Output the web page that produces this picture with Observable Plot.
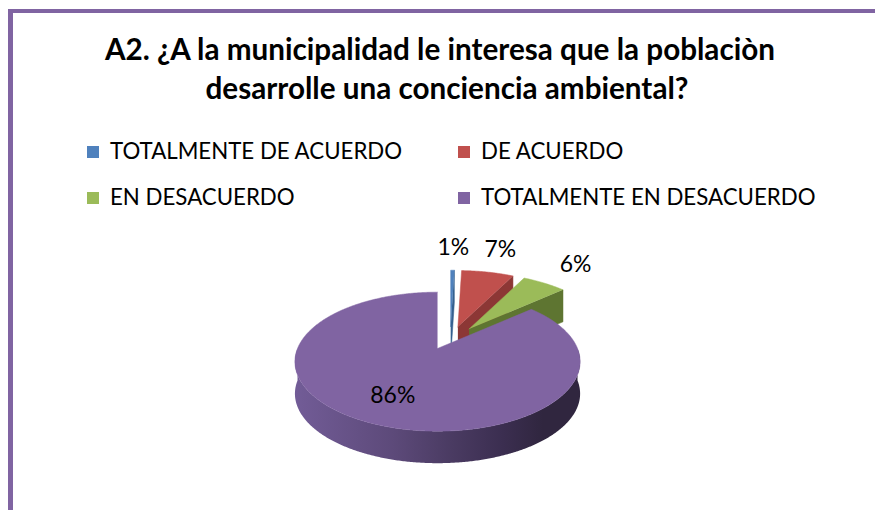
<!DOCTYPE html>
<html><head><meta charset="utf-8">
<script src="https://cdn.jsdelivr.net/npm/d3@7"></script>
<script src="https://cdn.jsdelivr.net/npm/@observablehq/plot@0.6"></script>
<style>
body{margin:0;background:#fff;}
#wrap{position:relative;width:875px;height:510px;overflow:hidden;background:#fff;}
.bar{position:absolute;background:#8064A2;}
.txt{position:absolute;white-space:nowrap;color:#000;}
.sw{position:absolute;}
#chart{position:absolute;left:0;top:0;}
</style></head>
<body><div id="wrap"></div>
<script>
// ---------- data ----------
const categories = ["TOTALMENTE DE ACUERDO", "DE ACUERDO", "EN DESACUERDO", "TOTALMENTE EN DESACUERDO"];
const values = [0.5, 7.1, 6.0, 86.4];          // slice sizes
const valueLabels = ["1%", "7%", "6%", "86%"];   // printed labels
const titleLines = ["A2. ¿A la municipalidad le interesa que la poblaciòn", "desarrolle una conciencia ambiental?"];
const topColors = ["#4F81BD", "#C0504D", "#9BBB59", "#8064A2"];
const faceColors = ["#35608f", "#8c3735", "#5e7531", "#4b3b63"];

// ---------- helpers ----------
const FONT = "Lato, 'Open Sans', sans-serif";
const wrap = document.getElementById("wrap");
const ctx = document.createElement("canvas").getContext("2d");
function fitSize(text, weight, target) {
  ctx.font = `${weight} 100px ${FONT}`;
  return 100 * target / ctx.measureText(text).width;
}
function metrics(weight, size) {
  ctx.font = `${weight} ${size}px ${FONT}`;
  const m = ctx.measureText("Hg");
  return {a: m.fontBoundingBoxAscent, d: m.fontBoundingBoxDescent};
}
function addText(text, weight, size, baseline, opts) {
  const el = document.createElement("div");
  el.className = "txt";
  el.textContent = text;
  el.style.font = `${weight} ${size}px ${FONT}`;
  el.style.lineHeight = size + "px";
  const m = metrics(weight, size);
  el.style.top = (baseline - (size - (m.a + m.d)) / 2 - m.a) + "px";
  if (opts.center != null) {
    el.style.left = "0px"; el.style.width = (2 * opts.center) + "px"; el.style.textAlign = "center";
  } else el.style.left = opts.left + "px";
  wrap.appendChild(el);
}
function addBox(cls, l, t, w, h, color) {
  const el = document.createElement("div");
  el.className = cls;
  Object.assign(el.style, {left: l + "px", top: t + "px", width: w + "px", height: h + "px"});
  if (color) el.style.background = color;
  wrap.appendChild(el);
}

// ---------- pie geometry (3D, exploded, perspective) ----------
const C = {x: 449.7, y: 337.5}, RX = 140, RY = 67, K = 0.19, DEPTH = 32, EX = 30.6, EY = 11.5;
const arcs = d3.pie().sort(null).value(d => d)(values);
function proj(arc, a, r, z) {
  const m = (arc.startAngle + arc.endAngle) / 2;
  const u = r * Math.sin(a), v = -r * Math.cos(a);
  const s = 1 / (1 - K * v);
  return {x: C.x + EX * Math.sin(m) + RX * u * s, y: C.y - EY * Math.cos(m) + RY * v * s + z};
}
const step = Math.PI / 360;
const tops = [], faces = [], walls = [], labelPts = [];
arcs.forEach((arc, i) => {
  const t = [proj(arc, 0, 0, 0)];
  for (let a = arc.startAngle; a < arc.endAngle; a += step) t.push(proj(arc, a, 1, 0));
  t.push(proj(arc, arc.endAngle, 1, 0));
  tops.push(t);
  if (arc.endAngle < Math.PI) {
    const e = arc.endAngle;
    faces.push([proj(arc, e, 0, 0), proj(arc, e, 1, 0), proj(arc, e, 1, DEPTH), proj(arc, e, 0, DEPTH)]);
  } else faces.push(null);
  const a0 = Math.max(arc.startAngle, Math.PI / 2), a1 = Math.min(arc.endAngle, 3 * Math.PI / 2);
  if (a1 > a0) {
    const up = [], down = [];
    for (let a = a0; a < a1; a += step) { up.push(proj(arc, a, 1, 0)); down.push(proj(arc, a, 1, DEPTH)); }
    up.push(proj(arc, a1, 1, 0)); down.push(proj(arc, a1, 1, DEPTH));
    walls.push(up.concat(down.reverse()));
  }
  const m = (arc.startAngle + arc.endAngle) / 2;
  if (values[i] > 20) labelPts.push({...proj(arc, m, 0.68, 0), t: valueLabels[i]});
  else {
    const p = proj(arc, m, 1, 0), L = 23;
    labelPts.push({x: p.x + L * 2.2 * Math.sin(m), y: p.y - L * Math.cos(m), t: valueLabels[i]});
  }
});

const poly = (data, fill, stroke) => Plot.line(data, {x: "x", y: "y", fill, stroke: stroke ?? fill, strokeWidth: 0.5, curve: "linear"});
const labelSize = fitSize("86%", 400, 45);
const marks = [];
for (let i = 0; i < 3; i++) {
  if (faces[i]) marks.push(poly(faces[i], faceColors[i]));
  marks.push(poly(tops[i], topColors[i]));
}
walls.forEach(w => marks.push(poly(w, "url(#wallGrad)", "none")));
marks.push(poly(tops[3], topColors[3]));
marks.push(Plot.text(labelPts, {x: "x", y: "y", text: "t", fontSize: labelSize, fill: "#000", fontFamily: FONT}));

const chart = Plot.plot({
  width: 875, height: 510, margin: 0,
  x: {domain: [0, 875], range: [0, 875], axis: null},
  y: {domain: [0, 510], range: [0, 510], axis: null},
  style: {background: "transparent", fontFamily: FONT},
  marks
});
chart.id = "chart";
const grad = d3.select(chart).insert("defs", ":first-child").append("linearGradient")
  .attr("id", "wallGrad").attr("x1", 0).attr("x2", 1).attr("y1", 0).attr("y2", 0);
[[0, "#725c97"], [0.34, "#5d4a7a"], [0.55, "#4a3b62"], [0.73, "#3b2e50"], [0.87, "#30263f"], [1, "#30263f"]]
  .forEach(([o, c]) => grad.append("stop").attr("offset", o).attr("stop-color", c));
wrap.appendChild(chart);

// border
addBox("bar", 8, 9, 867, 3.5);
addBox("bar", 8, 9, 5, 501);

// title
const tSize = (fitSize(titleLines[0], 700, 662) + fitSize(titleLines[1], 700, 490)) / 2;
addText(titleLines[0], 700, tSize, 60, {center: 440});
addText(titleLines[1], 700, tSize, 99, {center: 447});

// legend
const legTargets = [295, 141, 184, 339];
const lSize = d3.mean(categories, (c, i) => fitSize(c, 400, legTargets[i]));
const legPos = [[87, 110, 160], [458, 481, 160], [87, 110, 206], [458, 481, 206]];
categories.forEach((c, i) => {
  const [sx, tx, bl] = legPos[i];
  addBox("sw", sx, bl - 14.5, 12, 12, topColors[i]);
  addText(c, 400, lSize, bl, {left: tx});
});
</script>
</body></html>
